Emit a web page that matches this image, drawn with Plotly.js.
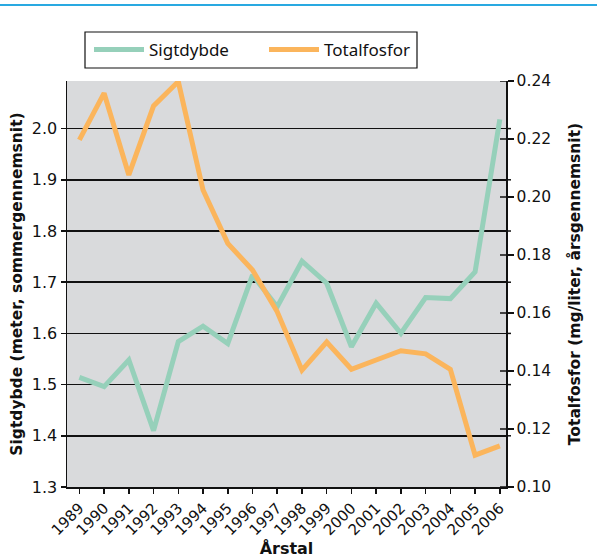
<!DOCTYPE html>
<html>
<head>
<meta charset="utf-8">
<script src="https://cdn.plot.ly/plotly-3.0.1.min.js"></script>
<style>html,body{margin:0;padding:0;background:#fff;}#chart{width:597px;height:558px;}</style>
</head>
<body>
<div id="chart"></div>
<script>
const years = [1989,1990,1991,1992,1993,1994,1995,1996,1997,1998,1999,2000,2001,2002,2003,2004,2005,2006];
const sigtdybde = [1.514,1.496,1.548,1.410,1.584,1.614,1.580,1.714,1.652,1.741,1.698,1.574,1.659,1.600,1.670,1.668,1.720,2.018];
const totalfosfor = [0.2197,0.2358,0.2076,0.2314,0.2398,0.2024,0.1840,0.1748,0.1604,0.1403,0.1500,0.1406,0.1438,0.1470,0.1459,0.1406,0.1110,0.1142];
const leftTicks = [1.3,1.4,1.5,1.6,1.7,1.8,1.9,2.0];
const rightTicks = [0.10,0.12,0.14,0.16,0.18,0.20,0.22,0.24];

const green = '#96d0ba';
const orange = '#fbb55c';

const traces = [
  {x: years, y: sigtdybde, name: 'Sigtdybde', type: 'scatter', mode: 'lines',
   line: {color: green, width: 5}, yaxis: 'y'},
  {x: years, y: totalfosfor, name: 'Totalfosfor', type: 'scatter', mode: 'lines',
   line: {color: orange, width: 5}, yaxis: 'y2'}
];

const W = 439, H = 406, L = 67, T = 81;
const shapes = [
  {type: 'line', xref: 'paper', yref: 'paper', x0: -L / W, x1: (597 - L) / W,
   y0: (487 - 5) / H, y1: (487 - 5) / H, line: {color: '#29a9e1', width: 2}},
  {type: 'rect', xref: 'paper', yref: 'paper', layer: 'below',
   x0: (85 - L) / W, x1: (417 - L) / W, y0: (487 - 68) / H, y1: (487 - 32) / H,
   fillcolor: '#ffffff', line: {color: '#111', width: 1.2}}
];
leftTicks.forEach(v => {
  shapes.push({type: 'line', xref: 'paper', yref: 'y', x0: 1, x1: 1 + 5 / W, y0: v, y1: v,
    line: {color: '#111', width: 1.5}});
});
rightTicks.forEach(v => {
  shapes.push({type: 'line', xref: 'paper', yref: 'y2', x0: 1 - 6 / W, x1: 1, y0: v, y1: v,
    line: {color: '#111', width: 1.5}});
});

const tickFont = {family: 'DejaVu Sans', size: 16, color: '#111'};
const layout = {
  width: 597, height: 558,
  margin: {l: 67, r: 91, t: 81, b: 71, pad: 0},
  paper_bgcolor: '#ffffff',
  plot_bgcolor: '#d9dadc',
  showlegend: true,
  legend: {
    orientation: 'h', x: (89 - L) / W, y: (487 - 32) / H, xanchor: 'left', yanchor: 'top',
    bgcolor: 'rgba(0,0,0,0)', borderwidth: 0,
    font: {family: 'Noto Sans', size: 17, color: '#111'},
    itemwidth: 50,
    entrywidth: 110, entrywidthmode: 'pixels'
  },
  xaxis: {
    range: [1988.5, 2006.25], tickvals: years, ticktext: years.map(String),
    tickangle: -45, ticks: 'outside', ticklen: 5, tickcolor: '#111', tickwidth: 1.5,
    showline: true, linecolor: '#111', linewidth: 1.5, showgrid: false, zeroline: false,
    tickfont: {family: 'DejaVu Sans', size: 15, color: '#111'},
    title: {text: 'Årstal', font: {family: 'DejaVu Sans', size: 16, color: '#111', weight: 'bold'}, standoff: 4}
  },
  yaxis: {
    range: [1.3, 2.093], tickvals: leftTicks, ticktext: leftTicks.map(v => v.toFixed(1)),
    ticks: 'outside', ticklen: 5, tickcolor: '#111', tickwidth: 1.5,
    showline: true, linecolor: '#111', linewidth: 1.5,
    showgrid: true, gridcolor: '#111', gridwidth: 1.5, zeroline: false,
    tickfont: tickFont,
    title: {text: 'Sigtdybde (meter, sommergennemsnit)', font: {family: 'DejaVu Sans', size: 15.5, color: '#111', weight: 'bold'}, standoff: 5}
  },
  yaxis2: {
    overlaying: 'y', side: 'right', range: [0.10, 0.24],
    tickvals: rightTicks, ticktext: rightTicks.map(v => v.toFixed(2)),
    ticks: 'outside', ticklen: 6, tickcolor: '#111', tickwidth: 1.5,
    showline: true, linecolor: '#111', linewidth: 1.5,
    showgrid: false, zeroline: false,
    tickfont: {family: 'DejaVu Sans', size: 15.5, color: '#111'},
    title: {text: 'Totalfosfor (mg/liter, årsgennemsnit)', font: {family: 'DejaVu Sans', size: 15.5, color: '#111', weight: 'bold'}, standoff: 19}
  },
  shapes: shapes
};

Plotly.newPlot('chart', traces, layout, {displayModeBar: false, staticPlot: true});
</script>
</body>
</html>
